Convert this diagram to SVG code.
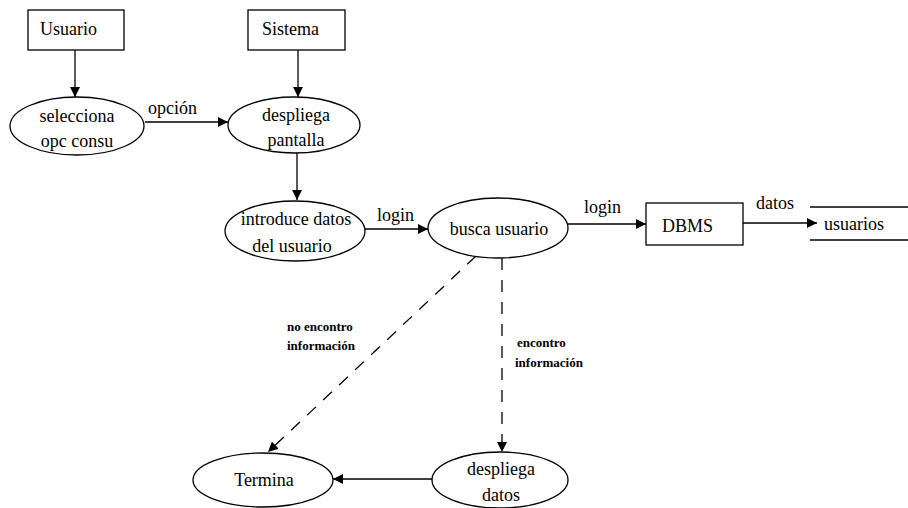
<svg xmlns="http://www.w3.org/2000/svg" width="908" height="508" viewBox="0 0 908 508">
  <defs>
    <style>
      .shape { fill: #ffffff; stroke: #000000; stroke-width: 1.3; }
      .edge { fill: none; stroke: #000000; stroke-width: 1.3; }
      .dash { stroke-dasharray: 12 10; }
      .lbl { font-size: 18px; fill: #000; }
      .sm { font-size: 13px; font-weight: bold; fill: #000; }
      .mid { text-anchor: middle; }
    </style>
    <marker id="arrow" viewBox="0 0 10 10" refX="10" refY="5" markerWidth="10" markerHeight="10" markerUnits="userSpaceOnUse" orient="auto">
      <path d="M0,0 L10,5 L0,10 Z" fill="#000"/>
    </marker>
  </defs>
  <rect width="908" height="508" fill="#ffffff"/>

  <g font-family="'Liberation Serif', 'DejaVu Serif', serif">
  <g id="connectors">
    <line class="edge" x1="75" y1="50" x2="75" y2="97" marker-end="url(#arrow)"/>
    <line class="edge" x1="298" y1="50" x2="298" y2="97" marker-end="url(#arrow)"/>
    <line class="edge" x1="145" y1="122" x2="228" y2="122" marker-end="url(#arrow)"/>
    <text class="lbl" x="148" y="114">opción</text>
    <line class="edge" x1="297" y1="153" x2="297" y2="200" marker-end="url(#arrow)"/>
    <line class="edge" x1="365" y1="229" x2="428" y2="229" marker-end="url(#arrow)"/>
    <text class="lbl" x="377" y="221">login</text>
    <line class="edge" x1="568" y1="224" x2="646" y2="224" marker-end="url(#arrow)"/>
    <text class="lbl" x="584" y="213">login</text>
    <line class="edge" x1="743" y1="223" x2="817" y2="223" marker-end="url(#arrow)"/>
    <text class="lbl" x="756" y="209">datos</text>
    <line class="edge dash" x1="476" y1="256" x2="268" y2="452" marker-end="url(#arrow)"/>
    <text class="sm" x="287" y="331">no encontro</text>
    <text class="sm" x="287" y="350">información</text>
    <line class="edge dash" x1="502" y1="258" x2="502" y2="452" marker-end="url(#arrow)"/>
    <text class="sm" x="517" y="347">encontro</text>
    <text class="sm" x="515" y="367">información</text>
    <line class="edge" x1="432" y1="479" x2="333" y2="479" marker-end="url(#arrow)"/>
  </g>

  <g id="usuario">
    <rect class="shape" x="28" y="10" width="96" height="40"/>
    <text class="lbl" x="40" y="35">Usuario</text>
  </g>
  <g id="sistema">
    <rect class="shape" x="248" y="10" width="97" height="40"/>
    <text class="lbl" x="262" y="35">Sistema</text>
  </g>
  <g id="selecciona">
    <ellipse class="shape" cx="77" cy="126" rx="67" ry="29"/>
    <text class="lbl mid" x="77" y="122">selecciona</text>
    <text class="lbl mid" x="77" y="147">opc consu</text>
  </g>
  <g id="despliega-pantalla">
    <ellipse class="shape" cx="294" cy="125" rx="66" ry="28"/>
    <text class="lbl mid" x="296" y="121">despliega</text>
    <text class="lbl mid" x="296" y="146">pantalla</text>
  </g>
  <g id="introduce">
    <ellipse class="shape" cx="295" cy="231" rx="70" ry="30"/>
    <text class="lbl mid" x="296" y="225">introduce datos</text>
    <text class="lbl mid" x="292" y="252">del usuario</text>
  </g>
  <g id="busca">
    <ellipse class="shape" cx="498" cy="228" rx="70" ry="30"/>
    <text class="lbl mid" x="499" y="235">busca usuario</text>
  </g>
  <g id="dbms">
    <rect class="shape" x="646" y="203" width="97" height="42"/>
    <text class="lbl" x="662" y="232">DBMS</text>
  </g>
  <g id="usuarios">
    <line class="edge" x1="810" y1="207" x2="908" y2="207"/>
    <line class="edge" x1="810" y1="240" x2="908" y2="240"/>
    <text class="lbl" x="824" y="230">usuarios</text>
  </g>
  <g id="termina">
    <ellipse class="shape" cx="263" cy="480" rx="70" ry="27"/>
    <text class="lbl mid" x="264" y="486">Termina</text>
  </g>
  <g id="despliega-datos">
    <ellipse class="shape" cx="500" cy="480" rx="68" ry="28"/>
    <text class="lbl mid" x="501" y="475">despliega</text>
    <text class="lbl mid" x="501" y="501">datos</text>
  </g>
  </g>
</svg>
